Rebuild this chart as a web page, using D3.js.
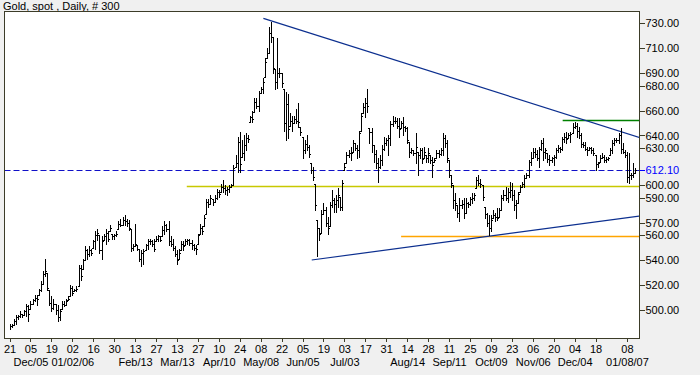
<html>
<head>
<script src="https://d3js.org/d3.v7.min.js"></script>
<style>
  body { margin: 0; background: #f0f0f0; }
  svg text { font-family: "Liberation Sans", Arial, sans-serif; }
</style>
</head>
<body>
<svg id="chart" width="700" height="375"></svg>
<script>
// ---- data ----
const title = "Gold, spot , Daily, # 300";
const firstDay = "2005-11-21";

const lows = [
485,486,488,489,493,494,494,496,495,491,501,505,507,504,512,515,521,527,516,504,
499,501,497,491,492,501,503,504,508,511,512,515,515,519,524,533,540,541,543,544,
550,549,556,546,541,556,553,555,563,557,557,559,565,567,568,568,567,564,547,548,
551,548,539,535,537,548,549,553,551,547,555,555,555,559,561,563,552,551,548,543,
537,541,548,548,552,553,552,549,548,545,553,561,561,567,577,583,585,584,587,589,
591,595,595,593,592,595,599,600,615,611,611,623,620,628,635,651,651,659,662,660,
674,674,687,702,706,715,690,677,678,687,679,644,636,638,648,644,650,650,647,640,
622,626,628,623,610,604,580,543,556,562,577,567,561,567,583,579,579,583,580,580,
612,618,623,620,627,628,622,623,644,658,655,659,634,627,619,614,603,614,616,628,
632,624,632,648,650,646,639,646,640,644,634,623,626,624,618,608,622,618,622,619,
619,618,607,619,622,623,624,624,631,619,607,599,582,580,575,571,582,574,578,583,
584,586,588,598,600,599,588,574,567,560,563,574,571,572,575,580,588,588,587,591,
588,580,574,586,595,599,599,606,607,616,622,623,620,615,628,620,622,619,616,619,
616,622,627,627,628,635,634,638,635,642,646,639,638,631,631,628,624,628,626,624,
612,615,619,622,619,619,620,624,626,632,635,634,626,626,623,603,602,605,607,610
];
const highs = [
489,489,493,496,496,499,497,500,505,504,507,509,512,512,517,523,531,541,530,516,
511,509,505,504,501,507,507,509,511,520,519,517,519,536,536,541,551,549,551,549,
556,563,565,560,559,561,565,563,568,561,561,563,571,573,575,576,573,572,565,553,
569,552,549,548,549,553,557,557,556,557,559,560,559,567,571,569,571,559,557,551,
548,549,555,555,557,557,557,556,553,552,561,569,567,576,589,589,592,589,592,597,
596,601,604,600,599,600,601,616,624,639,643,636,640,642,640,656,660,670,670,676,
679,686,702,710,727,731,719,693,718,694,690,677,675,673,658,656,656,661,666,647,
639,636,640,632,618,615,601,572,566,580,586,583,575,587,596,590,592,598,591,604,
618,627,628,631,636,634,632,644,658,666,670,677,646,646,632,628,622,624,632,639,
638,640,652,656,655,654,654,652,655,648,647,635,630,628,642,627,630,630,631,624,
630,624,623,622,628,628,630,642,640,636,620,608,600,594,584,590,588,590,590,587,
591,594,594,607,608,605,600,583,578,576,576,580,578,582,582,592,596,599,598,603,
602,596,588,595,600,603,608,610,620,627,630,630,628,631,636,638,630,626,624,623,
624,630,632,631,639,642,643,642,643,650,651,650,647,642,635,635,631,631,631,630,
624,619,624,626,624,623,623,630,636,638,638,642,646,634,628,627,626,610,618,614
];
const closes = [
487,488,491,494,495,497,496,499,503,497,505,508,510,509,516,521,529,531,518,506,
502,505,500,494,499,505,504,507,509,518,514,516,517,534,527,540,548,545,548,546,
555,560,562,548,555,559,562,557,566,559,560,561,569,568,572,571,570,566,550,551,
553,549,541,546,547,552,555,555,553,549,557,559,556,564,568,565,555,553,550,545,
540,546,553,551,555,556,554,552,550,549,560,566,563,574,587,585,590,587,590,595,
593,599,598,596,597,599,600,614,618,635,617,626,632,638,637,655,653,667,664,674,
677,683,699,706,722,719,694,683,690,690,682,650,665,645,652,650,653,652,651,643,
628,633,631,625,612,607,584,566,561,577,580,570,566,584,588,585,588,592,583,602,
615,624,626,626,634,630,628,642,656,663,666,664,643,632,625,618,615,620,629,634,
636,638,649,652,652,648,645,650,647,646,636,627,628,626,631,624,628,621,627,622,
626,620,616,620,626,625,628,638,634,622,612,602,588,586,578,584,585,578,586,585,
589,590,592,604,602,601,591,577,570,566,572,576,575,574,580,590,592,590,595,596,
592,584,586,593,599,601,606,608,619,622,627,625,622,629,634,627,628,621,620,622,
623,628,630,629,637,639,637,640,641,647,648,644,640,633,632,629,628,630,628,626,
617,618,622,623,620,621,622,628,634,636,636,640,629,627,624,607,608,608,610,612.1
];

const yTickValues = [730, 710, 690, 680, 660, 640, 630, 600, 590, 570, 560, 540, 520, 500];
const lastPrice = 612.10;

const dayTickDates = ["2005-11-21","2005-12-05","2005-12-19","2006-01-02","2006-01-16","2006-01-30",
  "2006-02-13","2006-02-27","2006-03-13","2006-03-27","2006-04-10","2006-04-24","2006-05-08","2006-05-22",
  "2006-06-05","2006-06-19","2006-07-03","2006-07-17","2006-07-31","2006-08-14","2006-08-28","2006-09-11",
  "2006-09-25","2006-10-09","2006-10-23","2006-11-06","2006-11-20","2006-12-04","2006-12-18","2007-01-08"];
const dayTickLabels = ["21","05","19","02","16","30","13","27","13","27","10","24","08","22",
  "05","19","03","17","31","14","28","11","25","09","23","06","20","04","18","08"];
const monthTickDates = ["2005-12-05","2006-01-02","2006-02-13","2006-03-13","2006-04-10","2006-05-08",
  "2006-06-05","2006-07-03","2006-08-14","2006-09-11","2006-10-09","2006-11-06","2006-12-04","2007-01-08"];
const monthTickLabels = ["Dec/05","01/02/06","Feb/13","Mar/13","Apr/10","May/08","Jun/05","Jul/03",
  "Aug/14","Sep/11","Oct/09","Nov/06","Dec/04","01/08/07"];

// drawn studies: [bar index, price] end points
const resistanceLine = [[121.3, 734.0], [300.9, 638.5]];
const supportLine = [[144.4, 540.1], [300.9, 575.4]];
// horizontal levels: start bar, price
const yellowLevel = [84.7, 599.5];
const orangeLevel = [187.1, 559.3];
const greenLevel = [264.3, 652.2];

// ---- layout ----
const svg = d3.select("#chart");
const frame = {left: 4.5, top: 11.5, right: 639.5, bottom: 338.5};
const frameColor = "#3c3c28";

// one bar per weekday
const fmt = d3.utcFormat("%Y-%m-%d");
const days = [];
for (let d = new Date(firstDay + "T00:00:00Z"); days.length < closes.length; d = d3.utcDay.offset(d, 1)) {
  if (d.getUTCDay() % 6 !== 0) days.push(d);
}
const dayIndex = new Map(days.map((d, i) => [fmt(d), i]));

const x = d3.scaleLinear().domain([0, closes.length - 1]).range([9.5, 635.3]);
const y = d3.scaleLinear().domain([500, 730]).range([310, 23.3]);
const px = v => Math.round(v) + 0.5;

svg.append("rect").attr("width", 700).attr("height", 375).attr("fill", "#f0f0f0");

svg.append("text").attr("x", 3).attr("y", 10).attr("font-size", 11).attr("fill", "#000").text(title);

svg.append("rect")
  .attr("x", frame.left).attr("y", frame.top)
  .attr("width", frame.right - frame.left).attr("height", frame.bottom - frame.top)
  .attr("fill", "#fff").attr("stroke", frameColor);

svg.append("clipPath").attr("id", "plot").append("rect")
  .attr("x", frame.left + 0.5).attr("y", frame.top + 0.5)
  .attr("width", frame.right - frame.left - 1).attr("height", frame.bottom - frame.top - 1);

const plot = svg.append("g").attr("clip-path", "url(#plot)");

// last price dashed line
plot.append("line")
  .attr("x1", frame.left).attr("x2", frame.right)
  .attr("y1", px(y(lastPrice))).attr("y2", px(y(lastPrice)))
  .attr("stroke", "#1010c8").attr("stroke-dasharray", "6,3");

// horizontal levels
[[yellowLevel, "#c8c800"], [orangeLevel, "#ffa500"], [greenLevel, "#008000"]].forEach(([lv, c]) => {
  plot.append("line")
    .attr("x1", x(lv[0])).attr("x2", frame.right)
    .attr("y1", px(y(lv[1]))).attr("y2", px(y(lv[1])))
    .attr("stroke", c).attr("stroke-width", 1.3);
});

// trend lines
[resistanceLine, supportLine].forEach(l => {
  plot.append("line")
    .attr("x1", x(l[0][0])).attr("y1", y(l[0][1]))
    .attr("x2", x(l[1][0])).attr("y2", y(l[1][1]))
    .attr("stroke", "#0c2f8f").attr("stroke-width", 1.2);
});

// price bars: high-low line, open tick (previous close) left, close tick right
const bars = plot.append("g").attr("fill", "#000").attr("shape-rendering", "crispEdges");
closes.forEach((c, i) => {
  const xi = Math.round(x(i));
  const top = Math.round(y(highs[i]));
  const bot = Math.round(y(lows[i]));
  bars.append("rect").attr("x", xi).attr("y", top).attr("width", 1).attr("height", bot - top + 1);
  bars.append("rect").attr("x", xi + 1).attr("y", Math.round(y(c))).attr("width", 1).attr("height", 1);
  if (i > 0) {
    const o = Math.min(highs[i], Math.max(lows[i], closes[i - 1]));
    bars.append("rect").attr("x", xi - 1).attr("y", Math.round(y(o))).attr("width", 1).attr("height", 1);
  }
});

// right axis
const yAxis = svg.append("g").attr("transform", `translate(${frame.right},0)`)
  .call(d3.axisRight(y).tickValues(yTickValues).tickSize(5).tickPadding(1).tickFormat(d3.format(".2f")));
yAxis.select(".domain").remove();
yAxis.selectAll("line").attr("stroke", frameColor).attr("shape-rendering", "crispEdges");
yAxis.selectAll("text").attr("font-size", 11).attr("fill", "#000").attr("font-family", null);

const lastTick = svg.append("g").attr("transform", `translate(${frame.right},0)`)
  .call(d3.axisRight(y).tickValues([lastPrice]).tickSize(5).tickPadding(1).tickFormat(d3.format(".2f")));
lastTick.select(".domain").remove();
lastTick.selectAll("line").attr("stroke", "#0000ff").attr("shape-rendering", "crispEdges");
lastTick.selectAll("text").attr("font-size", 11).attr("fill", "#0000ff").attr("font-family", null);

// bottom axis: day ticks and month labels
const dayTicks = dayTickDates.map(s => dayIndex.get(s));
const xAxis = svg.append("g").attr("transform", `translate(0,${frame.bottom})`)
  .call(d3.axisBottom(x).tickValues(dayTicks).tickSize(3).tickPadding(4)
    .tickFormat((d, k) => dayTickLabels[k]));
xAxis.select(".domain").remove();
xAxis.selectAll("line").attr("stroke", frameColor).attr("shape-rendering", "crispEdges");
xAxis.selectAll("text").attr("font-size", 11).attr("fill", "#000").attr("font-family", null);

const monthTicks = monthTickDates.map(s => dayIndex.get(s));
const mAxis = svg.append("g").attr("transform", `translate(0,${frame.bottom})`)
  .call(d3.axisBottom(x).tickValues(monthTicks).tickSize(0).tickPadding(20)
    .tickFormat((d, k) => monthTickLabels[k]));
mAxis.select(".domain").remove();
mAxis.selectAll("text").attr("font-size", 11).attr("fill", "#000").attr("font-family", null);
</script>
</body>
</html>
